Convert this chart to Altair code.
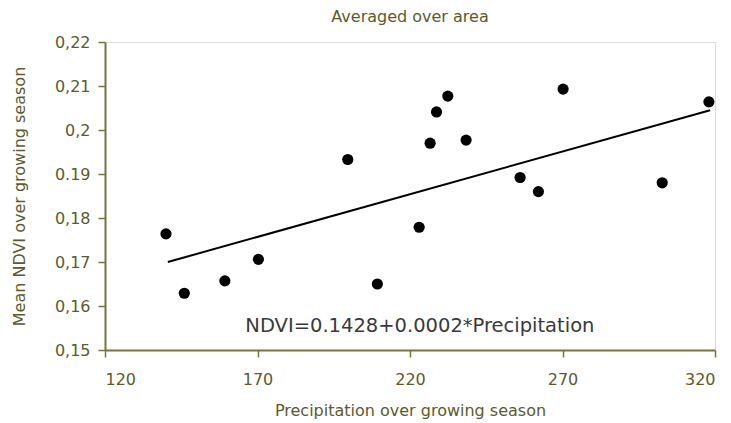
import altair as alt
import pandas as pd

precip = [140, 146, 159.3, 170.3, 199.6, 209.3, 223, 226.6, 228.7, 232.4, 238.4, 256.1, 262.1, 270.2, 302.7, 318]
ndvi = [0.1764, 0.1629, 0.1657, 0.1706, 0.1933, 0.1650, 0.1779, 0.1970, 0.2041, 0.2077, 0.1977, 0.1892, 0.1860, 0.2093, 0.1880, 0.2064]

# fitted trend line as drawn in the reference (end points)
fit_x = [140.6, 318.4]
fit_y = [0.1700, 0.2045]

x_ticks = [120, 170, 220, 270, 320]
y_ticks = [0.15, 0.16, 0.17, 0.18, 0.19, 0.20, 0.21, 0.22]
y_labels = ["0,15", "0,16", "0,17", "0,18", "0.19", "0,2", "0,21", "0,22"]

eq_text = ["NDVI=0.1428+0.0002*Precipitation"]
eq_x = [166]
eq_y = [0.1541]

TEXT = "#5b5b2c"
AXIS = "#74743c"
FONT = "DejaVu Sans"

df = pd.DataFrame({"x": precip, "y": ndvi})
fit_df = pd.DataFrame({"x": fit_x, "y": fit_y})
eq_df = pd.DataFrame({"x": eq_x, "y": eq_y, "t": eq_text})

expr = "''"
for v, l in zip(y_ticks, y_labels):
    expr = f"(abs(datum.value - {v}) < 0.0001 ? '{l}' : {expr})"

xs = alt.Scale(domain=[120, 320], nice=False, zero=False)
ys = alt.Scale(domain=[0.15, 0.22], nice=False, zero=False)

xaxis = alt.Axis(values=x_ticks, title="Precipitation over growing season", grid=False,
                 domainColor=AXIS, domainWidth=2, tickColor=AXIS, tickWidth=1.5, tickSize=7,
                 labelColor=TEXT, labelFont=FONT, labelFontSize=16, labelPadding=14,
                 titleColor=TEXT, titleFont=FONT, titleFontSize=16, titleFontWeight="normal",
                 titlePadding=15)
yaxis = alt.Axis(values=y_ticks, labelExpr=expr, title="Mean NDVI over growing season", grid=False,
                 domainColor=AXIS, domainWidth=2, tickColor=AXIS, tickWidth=1.5, tickSize=7,
                 labelColor=TEXT, labelFont=FONT, labelFontSize=16, labelPadding=8,
                 titleColor=TEXT, titleFont=FONT, titleFontSize=16, titleFontWeight="normal",
                 titlePadding=27)

pts = alt.Chart(df).mark_circle(color="black", opacity=1, size=125).encode(
    x=alt.X("x:Q", scale=xs, axis=xaxis),
    y=alt.Y("y:Q", scale=ys, axis=yaxis),
)
line = alt.Chart(fit_df).mark_line(color="black", strokeWidth=2).encode(
    x=alt.X("x:Q", scale=xs),
    y=alt.Y("y:Q", scale=ys),
)
eq = alt.Chart(eq_df).mark_text(align="left", baseline="alphabetic", font=FONT, fontSize=19.5,
                                color="#3a3a3a").encode(
    x=alt.X("x:Q", scale=xs),
    y=alt.Y("y:Q", scale=ys),
    text="t:N",
)

chart = alt.layer(line, pts, eq).properties(
    width=610, height=308,
    title=alt.TitleParams("Averaged over area", font=FONT, fontSize=16, fontWeight="normal",
                          color=TEXT, anchor="middle", offset=9),
    autosize=alt.AutoSizeParams(type="none"),
    padding={"left": 97, "top": 34, "right": 8, "bottom": 69},
).configure_view(stroke="#a8a8a8", strokeWidth=2).configure(background="white")

chart.save("out.html", embed_options={"renderer": "svg", "actions": False})
